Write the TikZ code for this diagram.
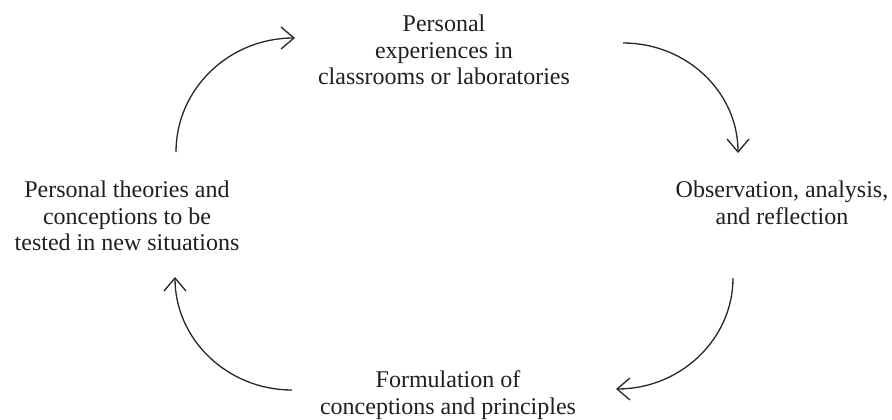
\documentclass[tikz,border=0pt]{standalone}
\usepackage{fontspec}
\setmainfont{Liberation Serif}
\usetikzlibrary{arrows.meta}
\begin{document}
\begin{tikzpicture}[x=1pt,y=1pt,
  lbl/.style={align=center,inner sep=0pt,text=black!88,font=\fontsize{24}{26.5}\selectfont},
  cyc/.style={line width=1.3pt,draw=black!85,-{Straight Barb[length=13pt,width=22pt,line width=1.3pt]}}]
\useasboundingbox (0,0) rectangle (892,420);
\node[lbl] (top) at (444,370) {Personal\\experiences in\\classrooms or laboratories};
\node[lbl] (right) at (782,217) {Observation, analysis,\\and reflection};
\node[lbl] (bottom) at (448,25) {Formulation of\\conceptions and principles};
\node[lbl] (left) at (127,204) {Personal theories and\\conceptions to be\\tested in new situations};
\coordinate (l1) at (176,268);
\coordinate (t0) at (295,382);
\coordinate (t1) at (623,377);
\coordinate (r0) at (738,267);
\coordinate (r1) at (733,142);
\coordinate (b0) at (616,31);
\coordinate (b1) at (292,30);
\coordinate (l0) at (175,143);
\draw[cyc] (l1) .. controls (176,331) and (229,382) .. (t0);
\draw[cyc] (t1) .. controls (686.5,377) and (738,328) .. (r0);
\draw[cyc] (r1) .. controls (733,81) and (680.6,31) .. (b0);
\draw[cyc] (b1) .. controls (227.4,30) and (175,80.6) .. (l0);
\end{tikzpicture}
\end{document}
